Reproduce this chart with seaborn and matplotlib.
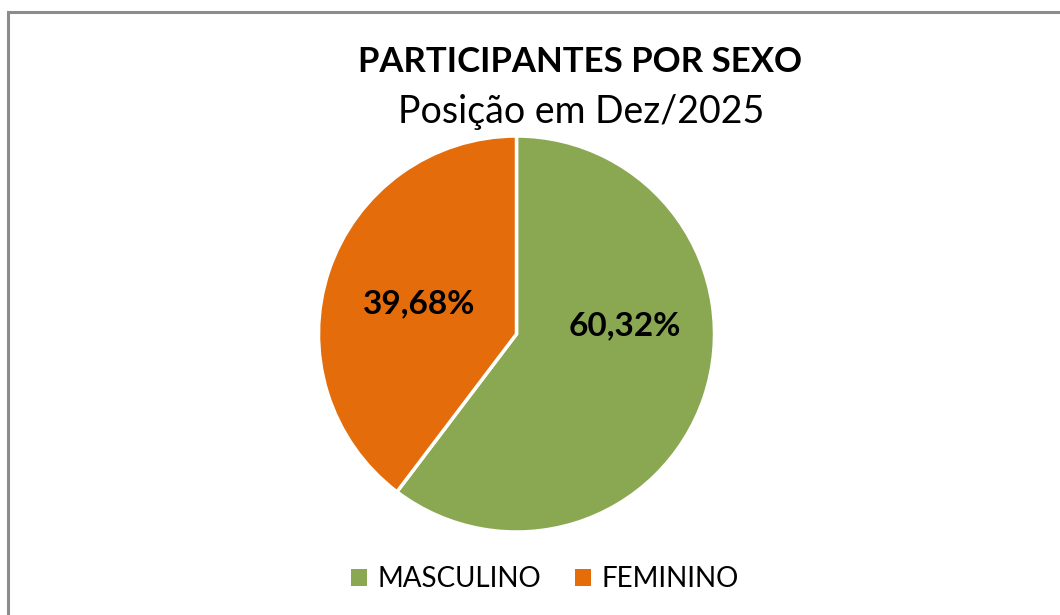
import matplotlib
matplotlib.use("Agg")
import matplotlib.pyplot as plt
import seaborn as sns
from matplotlib.patches import Patch, Rectangle

# data
categorias = ["MASCULINO", "FEMININO"]
percentuais = [60.32, 39.68]
cores = ["#8AA852", "#E46C0A"]
titulo = "PARTICIPANTES POR SEXO"
subtitulo = "Posição em Dez/2025"

sns.set_theme(style="white")
plt.rcParams["font.family"] = ["Lato", "DejaVu Sans"]
plt.rcParams["text.color"] = "black"

fig = plt.figure(figsize=(10.6, 6.15), dpi=100)
fig.patch.set_facecolor("white")

# moldura cinza (topo e esquerda)
fig.add_artist(Rectangle((8 / 1060, -0.2), 1.2, 1.2 - 12 / 615, transform=fig.transFigure,
                         fill=False, edgecolor="#8C8C8C", linewidth=2.2))

ax = fig.add_axes([318.5 / 1060, 83 / 615, 396 / 1060, 396 / 615])
wedges, _ = ax.pie(percentuais, colors=cores, startangle=90, counterclock=False,
                   wedgeprops=dict(edgecolor="white", linewidth=2.5))
ax.set_xlim(-1, 1)
ax.set_ylim(-1, 1)
ax.set_aspect("equal")
ax.axis("off")

# rótulos de dados (posição "melhor ajuste" do Excel)
pos_rotulos = [(0.548, -0.005), (-0.492, 0.106)]
for (x, y), v in zip(pos_rotulos, percentuais):
    ax.text(x, y, f"{v:.2f}%".replace(".", ","), ha="center", va="baseline",
            fontsize=24, fontweight="bold", color="black")

fig.text(0.547, 1 - 72 / 615, titulo, ha="center", va="baseline", fontsize=25, fontweight="bold")
fig.text(0.548, 1 - 123 / 615, subtitulo, ha="center", va="baseline", fontsize=27)

handles = [Patch(facecolor=c, edgecolor="none") for c in cores]
fig.legend(handles, categorias, loc="center", bbox_to_anchor=(0.514, 0.0585), ncol=2,
           frameon=False, fontsize=20, handlelength=0.58, handleheight=0.58,
           handletextpad=0.4, columnspacing=1.2, borderpad=0)

fig.savefig("out.png", dpi=100)
